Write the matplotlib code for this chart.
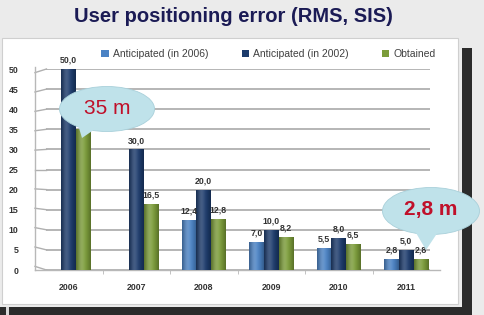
import numpy as np
import matplotlib
matplotlib.use("Agg")
import matplotlib.pyplot as plt
from matplotlib.patches import Rectangle, Ellipse, Polygon
from matplotlib.colors import to_rgb

years = ["2006", "2007", "2008", "2009", "2010", "2011"]
series_names = ["Anticipated (in 2006)", "Anticipated (in 2002)", "Obtained"]
antic_2006 = [np.nan, np.nan, 12.4, 7.0, 5.5, 2.8]
antic_2002 = [50.0, 30.0, 20.0, 10.0, 8.0, 5.0]
obtained = [35.0, 16.5, 12.8, 8.2, 6.5, 2.8]
yticks = [0, 5, 10, 15, 20, 25, 30, 35, 40, 45, 50]
colors = ["#4a82c4", "#1c3b6c", "#7b9c39"]

W, H = 484, 315
fig = plt.figure(figsize=(W / 100, H / 100), dpi=100)
fig.patch.set_facecolor("#ebebeb")
plt.rcParams["font.family"] = ["Liberation Sans", "DejaVu Sans"]


def px(x, y):
    # pixel position (from top-left) to figure fraction
    return x / W, 1 - y / H


def frame(x0, y0, x1, y1, **kw):
    fx, fy = px(x0, y1)
    r = Rectangle((fx, fy), (x1 - x0) / W, (y1 - y0) / H,
                  transform=fig.transFigure, **kw)
    fig.add_artist(r)
    return r


# slide decoration: white panel, dark shadow strips
frame(2, 38, 458, 304, facecolor="white", edgecolor="#cfcfcf", lw=0.8, zorder=-2)
frame(462, 48, 472, 307, facecolor="#2b2b2b", edgecolor="none", zorder=-2)
frame(0, 307, 472, 315, facecolor="#2b2b2b", edgecolor="none", zorder=-2)
frame(6, 307, 9, 315, facecolor="#d8d8d8", edgecolor="none", zorder=-1)

fig.text(0.483, px(0, 16)[1], "User positioning error (RMS, SIS)", ha="center",
         va="center", fontsize=14.5, fontweight="bold", color="#1b1b55")

ax = fig.add_axes([35 / W, (H - 270) / H, (440 - 35) / W, (270 - 69) / H])
ax.set_facecolor("none")

x = np.arange(len(years))
bw = 0.215
all_series = [antic_2006, antic_2002, obtained]

# back-wall gridlines
ax.hlines(yticks, -0.33, 5.35, color="#b0b0b0", lw=1.3, zorder=0)
for t in yticks:
    ax.plot([-0.5, -0.33], [t + 0.9 - t * 0.036, t], color="#b0b0b0", lw=1.0,
            clip_on=False, zorder=0)
# floor edge
ax.plot([-0.5, 5.5], [0, 0], color="#b8b8b8", lw=1.0, clip_on=False, zorder=0)
ax.plot([-0.5, -0.5], [0, 50.5], color="#b8b8b8", lw=1.0, clip_on=False, zorder=0)


def cyl_gradient(color, n=40):
    base = np.array(to_rgb(color))
    t = np.linspace(0, 1, n)
    light = np.exp(-((t - 0.35) / 0.25) ** 2)
    shade = 0.72 + 0.28 * np.sin(np.pi * t)
    rgb = base[None, :] * shade[:, None] + (1 - base[None, :]) * 0.18 * light[:, None]
    return np.clip(rgb, 0, 1)[None, :, :]


handles = []
for i, (vals, name, c) in enumerate(zip(all_series, series_names, colors)):
    pos = x + (i - 1) * bw
    bars = ax.bar(pos, vals, bw, color=c, label=name, zorder=2)
    handles.append(bars)
    grad = cyl_gradient(c)
    for b in bars:
        h = b.get_height()
        if np.isnan(h):
            continue
        im = ax.imshow(grad, extent=(b.get_x(), b.get_x() + b.get_width(), 0, h),
                       aspect="auto", zorder=2.5, interpolation="bilinear")
        im.set_clip_path(b)
    labels = ["" if np.isnan(v) else f"{v:.1f}".replace(".", ",") for v in vals]
    ax.bar_label(bars, labels=labels, padding=3, fontsize=6.3, color="#333333",
                 fontweight="bold")

ax.set_xlim(-0.5, 5.5)
ax.set_ylim(0, 50)
ax.set_yticks(yticks)
ax.set_xticks(x)
ax.set_xticklabels(years)
ax.set_xticks(np.arange(0.5, 5.5, 1), minor=True)
ax.tick_params(axis="y", length=0, pad=12, labelsize=6.3, labelcolor="#333333")
ax.tick_params(axis="x", which="major", length=0, pad=9, labelsize=6.3,
               labelcolor="#333333")
ax.tick_params(axis="x", which="minor", length=3, color="#b8b8b8")
for lab in ax.get_xticklabels() + ax.get_yticklabels():
    lab.set_fontweight("bold")
for s in ax.spines.values():
    s.set_visible(False)

leg = fig.legend(handles=handles, labels=series_names, loc="center",
                 bbox_to_anchor=(0.555, px(0, 54)[1]), ncol=3, frameon=False,
                 fontsize=7.5, handlelength=0.7, handleheight=0.7,
                 handletextpad=0.4, columnspacing=3.2)
for t in leg.get_texts():
    t.set_color("#404040")


def callout(cx, cy, w, h, tail, text, size, bold=False):
    fc = "#bfe2ea"
    e = Ellipse(px(cx, cy), w / W, h / H, transform=fig.transFigure,
                facecolor=fc, edgecolor="#a9d0da", lw=0.6, zorder=10)
    fig.add_artist(e)
    tri = Polygon([px(*p) for p in tail], closed=True, transform=fig.transFigure,
                  facecolor=fc, edgecolor="none", zorder=10)
    fig.add_artist(tri)
    fig.text(*px(cx, cy - 1), text, ha="center", va="center", fontsize=size,
             color="#c0102a", fontweight="bold" if bold else "normal", zorder=11)


callout(107, 109, 95, 45, [(76, 118), (98, 127), (82, 138)], "35 m", 15)
callout(431, 211, 97, 47, [(412, 226), (440, 229), (426, 250)], "2,8 m", 15, bold=True)

fig.savefig("out.png", dpi=100, facecolor=fig.get_facecolor())
